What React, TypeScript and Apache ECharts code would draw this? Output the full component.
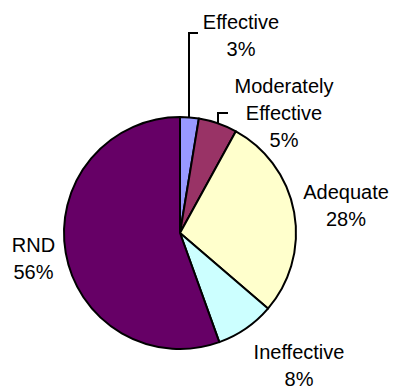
import React, { useEffect, useRef } from "react";
import * as echarts from "echarts";

const CATEGORIES = ["Effective", "Moderately Effective", "Adequate", "Ineffective", "RND"];
const VALUES = [2.6, 5.4, 28.3, 8.2, 55.5];
const COLORS = ["#9999FF", "#993366", "#FFFFCC", "#CCFFFF", "#660066"];

// label layout (positions only)
const LABEL_POS: number[][] = [
  [241, 35],
  [284, 113],
  [346, 205],
  [299, 365],
  [33.5, 258.5],
];
const LEADERS: Record<number, number[][]> = {
  0: [[189, 117], [189, 33], [198, 33]],
  1: [[218, 123], [218, 113], [228, 113]],
};

export default function App() {
  const ref = useRef<HTMLDivElement>(null);
  useEffect(() => {
    if (!ref.current) return;
    const chart = echarts.init(ref.current, null, { renderer: "svg" });
    chart.setOption({
      animation: false,
      backgroundColor: "#ffffff",
      series: [
        {
          type: "pie",
          center: [180, 233],
          radius: 116,
          startAngle: 90,
          clockwise: true,
          avoidLabelOverlap: false,
          data: CATEGORIES.map((c, i) => ({
            name: c,
            value: VALUES[i],
            itemStyle: { color: COLORS[i] },
            labelLine: { show: LEADERS[i] !== undefined },
          })),
          itemStyle: { borderColor: "#000000", borderWidth: 2 },
          label: {
            show: true,
            position: "outside",
            color: "#000000",
            fontFamily: "'Liberation Sans', Arial, sans-serif",
            fontSize: 20,
            lineHeight: 27,
            align: "center",
            formatter: (p: any) => `${p.name.replace(" ", "\n")}\n${Math.round(p.percent)}%`,
          },
          labelLine: {
            show: true,
            lineStyle: { color: "#000000", width: 2 },
          },
          labelLayout: (params: any) => {
            const i = params.dataIndex;
            const out: any = {
              x: LABEL_POS[i][0],
              y: LABEL_POS[i][1],
              align: "center",
              verticalAlign: "middle",
            };
            if (LEADERS[i]) out.labelLinePoints = LEADERS[i];
            return out;
          },
          emphasis: { disabled: true },
        },
      ],
    });
    return () => chart.dispose();
  }, []);
  return (
    <div
      ref={ref}
      style={{ position: "fixed", left: 0, top: 0, width: 393, height: 387, background: "#fff" }}
    />
  );
}
